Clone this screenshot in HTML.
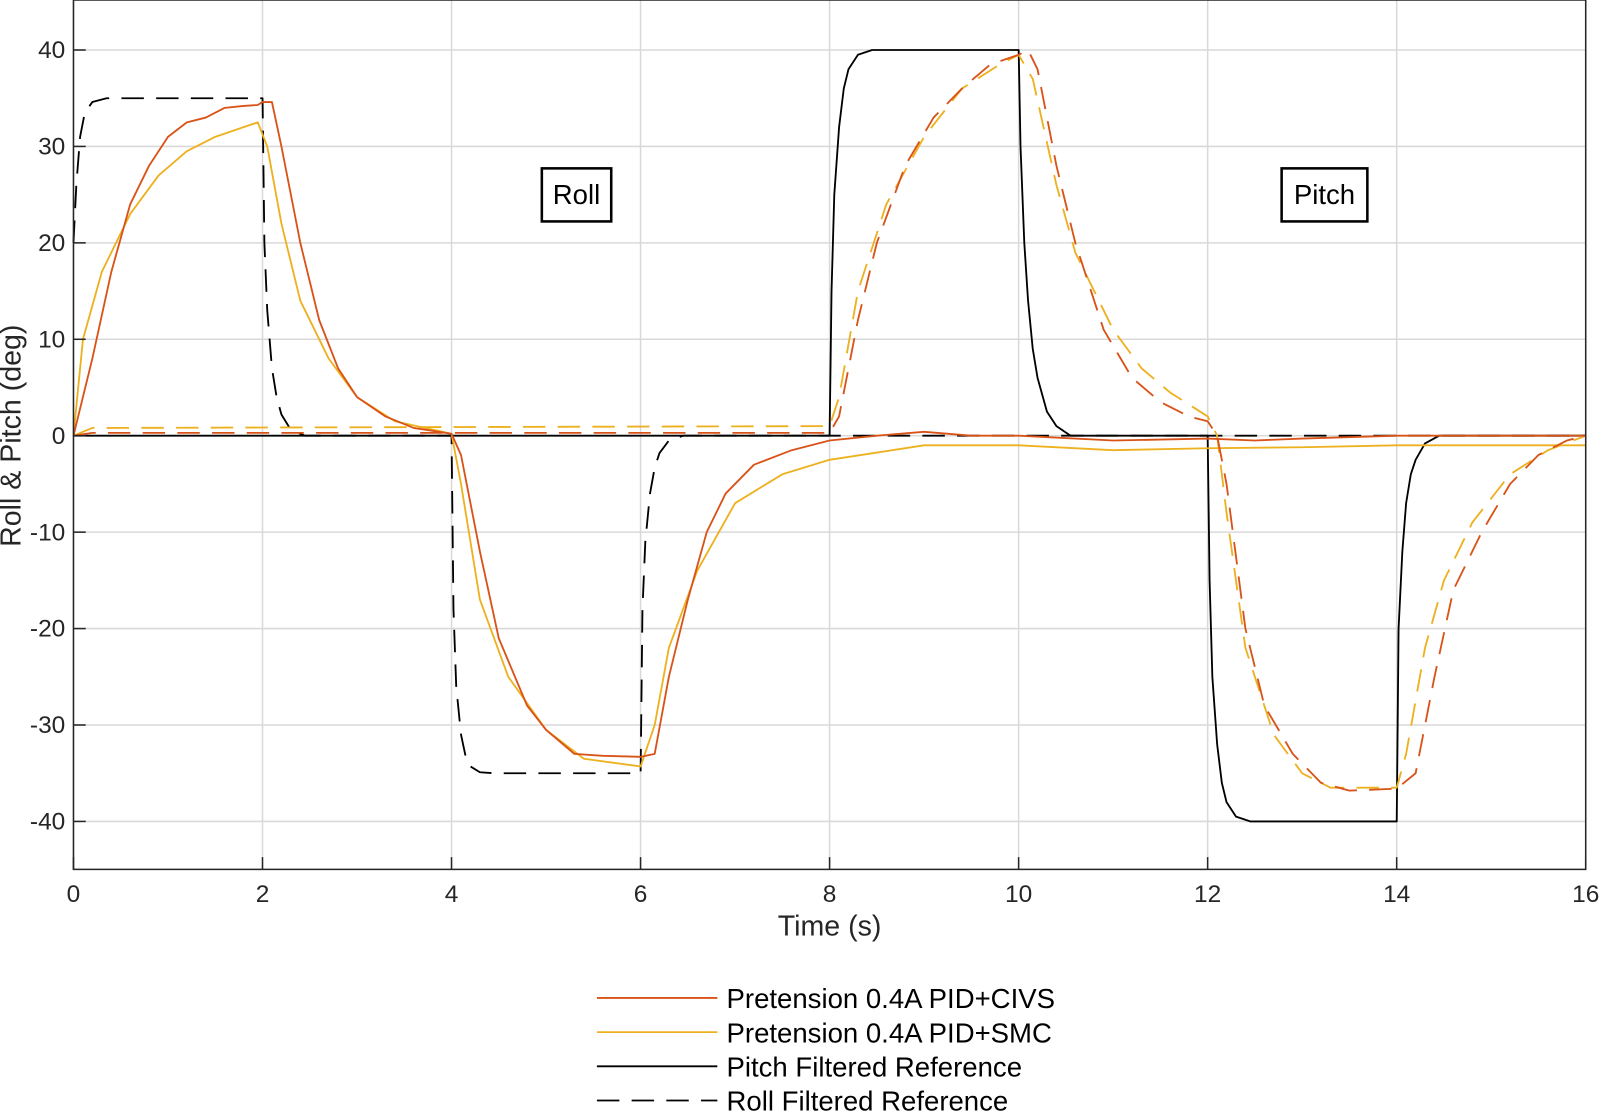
<!DOCTYPE html>
<html><head><meta charset="utf-8"><style>
body{margin:0;background:#fff}
svg{display:block;font-family:"Liberation Sans",Arial,sans-serif}
</style></head><body>
<svg id="chart" width="1600" height="1111" viewBox="0 0 1600 1111"><g id="root" transform="scale(1.020408)"></g></svg>
<script>
const xTicks=[0,2,4,6,8,10,12,14,16];
const yTicks=[40,30,20,10,0,-10,-20,-30,-40];
const civsRoll=[[0,0],[0.2,8],[0.4,17],[0.6,24],[0.8,28],[1.0,31],[1.2,32.5],[1.4,33],[1.6,34],[1.8,34.2],[1.95,34.3],[2.0,34.6],[2.1,34.6],[2.2,30],[2.4,20],[2.6,12],[2.8,7],[3.0,4],[3.3,2],[3.6,0.8],[4.0,0.2],[4.1,-2],[4.3,-12],[4.5,-21],[4.8,-28],[5.0,-30.5],[5.3,-33],[5.6,-33.2],[6.0,-33.3],[6.15,-33],[6.3,-25],[6.5,-17],[6.7,-10],[6.9,-6],[7.2,-3],[7.6,-1.5],[8,-0.5],[8.5,0],[9,0.4],[9.5,0],[10,0],[11,-0.5],[12,-0.3],[12.5,-0.5],[13,-0.3],[14,0],[16,0]];
const civsPitch=[[0,0],[0.2,0.3],[4,0.3],[8,0.3],[8.1,2],[8.3,12],[8.5,20],[8.8,28],[9.1,33],[9.4,36],[9.7,38.5],[10,39.5],[10.1,40],[10.2,38],[10.4,28],[10.6,20],[10.9,11],[11.2,6],[11.5,3.5],[11.8,2],[12,1.5],[12.1,0],[12.2,-5],[12.4,-20],[12.6,-28],[12.9,-33],[13.2,-36],[13.5,-36.8],[14,-36.6],[14.2,-35],[14.4,-25],[14.6,-16],[14.9,-10],[15.2,-5],[15.5,-2],[15.8,-0.5],[16,0]];
const smcRoll=[[0,0],[0.1,10],[0.3,17],[0.6,23],[0.9,27],[1.2,29.5],[1.5,31],[1.8,32],[1.95,32.5],[2.05,30],[2.2,22],[2.4,14],[2.7,8],[3.0,4],[3.4,1.5],[4,0.2],[4.1,-5],[4.3,-17],[4.6,-25],[5.0,-30.5],[5.4,-33.5],[6,-34.3],[6.15,-30],[6.3,-22],[6.6,-14],[7,-7],[7.5,-4],[8,-2.5],[9,-1],[10,-1],[11,-1.5],[12,-1.3],[13,-1.2],[14,-1],[16,-1]];
const smcPitch=[[0,0],[0.2,0.8],[4,0.9],[8,1],[8.1,4],[8.3,15],[8.6,24],[9,31],[9.4,36],[9.8,38.5],[10,39.5],[10.15,37],[10.4,26],[10.6,19],[11,11],[11.3,7],[11.6,4.5],[12,2],[12.1,0],[12.2,-8],[12.4,-22],[12.7,-31],[13,-35],[13.3,-36.5],[14,-36.5],[14.1,-33],[14.3,-22],[14.5,-15],[14.8,-9],[15.2,-4],[15.6,-1.5],[16,0]];
const pitchRef=[[0,0],[8,0],[8.02,15],[8.05,25],[8.1,32],[8.15,36],[8.2,38],[8.3,39.5],[8.45,40],[10,40],[10.02,30],[10.06,20],[10.1,14],[10.15,9],[10.2,6],[10.3,2.5],[10.4,1],[10.55,0],[12,0],[12.02,-15],[12.05,-25],[12.1,-32],[12.15,-36],[12.2,-38],[12.3,-39.5],[12.45,-40],[14,-40],[14.02,-20],[14.06,-12],[14.1,-7],[14.15,-4],[14.2,-2.5],[14.3,-0.8],[14.45,0],[16,0]];
const rollRef=[[0,20],[0.03,26],[0.07,31],[0.12,33.5],[0.2,34.6],[0.35,35],[2,35],[2.02,20],[2.05,13],[2.1,7],[2.15,4],[2.2,2.2],[2.3,0.6],[2.45,0],[4,0],[4.02,-18],[4.05,-26],[4.1,-31],[4.15,-33.3],[4.2,-34.3],[4.3,-34.9],[4.45,-35],[6,-35],[6.02,-18],[6.05,-11],[6.1,-6],[6.15,-3.3],[6.2,-1.8],[6.3,-0.5],[6.45,0],[16,0]];
const legendLabels=["Pretension 0.4A PID+CIVS","Pretension 0.4A PID+SMC","Pitch Filtered Reference","Roll Filtered Reference"];

const L=72,R=1554,T=0,B=852;
const X=t=>L+(t-0)/16*(R-L);
const Y=v=>427-v*9.45;
const svg=document.getElementById('root');
const NS='http://www.w3.org/2000/svg';
function mk(tag,attrs,parent){const e=document.createElementNS(NS,tag);for(const k in attrs)e.setAttribute(k,attrs[k]);(parent||svg).appendChild(e);return e;}

const grid=mk('g',{});


xTicks.forEach(t=>{mk('line',{x1:X(t),x2:X(t),y1:T,y2:B,stroke:'#d9d9d9','stroke-width':1.5},grid);});
yTicks.forEach(v=>{mk('line',{x1:L,x2:R,y1:Y(v),y2:Y(v),stroke:'#d9d9d9','stroke-width':1.5},grid);});

function series(data,color,dash,name){
  const p=mk('path',{d:data.map((d,i)=>(i?'L':'M')+X(d[0]).toFixed(1)+','+Y(d[1]).toFixed(1)).join(''),fill:'none',stroke:color,'stroke-width':1.8,'stroke-dasharray':dash||'none','stroke-linejoin':'round'});
  
  
}
series(pitchRef,'#000','', 'pitch-reference-line');
series(rollRef,'#000','22,12','roll-reference-line');
series(smcRoll,'#edb120','','smc-roll-line');
series(smcPitch,'#edb120','22,12','smc-pitch-line');
series(civsRoll,'#d95319','','civs-roll-line');
series(civsPitch,'#d95319','22,12','civs-pitch-line');

const ax=mk('rect',{x:L,y:T,width:R-L,height:B-T,fill:'none',stroke:'#262626','stroke-width':1.5});



xTicks.forEach(t=>{
  mk('line',{x1:X(t),x2:X(t),y1:B,y2:B-12,stroke:'#262626','stroke-width':1.5});
  const tx=mk('text',{x:X(t),y:B+32,'font-size':24,'text-anchor':'middle',fill:'#262626'});
  tx.textContent=t;
  
  
});
yTicks.forEach(v=>{
  mk('line',{x1:L,x2:L+12,y1:Y(v),y2:Y(v),stroke:'#262626','stroke-width':1.5});
  const tx=mk('text',{x:L-8,y:Y(v)+8,'font-size':24,'text-anchor':'end',fill:'#262626'});
  tx.textContent=v;
  
  
});
const xt=mk('text',{x:813,y:917,'font-size':28,'text-anchor':'middle',fill:'#262626'});
xt.textContent='Time (s)';


const yt=mk('text',{x:0,y:0,'font-size':28,'text-anchor':'middle',fill:'#262626',transform:'translate(20,427) rotate(-90)'});
yt.textContent='Roll & Pitch (deg)';



function box(x,w,label,name){
  const g=mk('g',{});
  
  
  mk('rect',{x:x,y:165,width:w,height:52,fill:'#fff',stroke:'#000','stroke-width':2.5},g);
  const t=mk('text',{x:x+w/2,y:200,'font-size':27,'text-anchor':'middle',fill:'#000'},g);
  t.textContent=label;
}
box(531,68,'Roll','roll-annotation');
box(1256,84,'Pitch','pitch-annotation');

const lg=mk('g',{});


const lc=['#d95319','#edb120','#000','#000'],ld=['','','','22,12'];
legendLabels.forEach((s,i)=>{
  const y=979+i*33.5;
  mk('line',{x1:585,x2:703,y1:y-1,y2:y-1,stroke:lc[i],'stroke-width':1.8,'stroke-dasharray':ld[i]||'none'},lg);
  const t=mk('text',{x:712,y:y+9,'font-size':27,fill:'#000'},lg);
  t.textContent=s;
  
  
});
</script>
</body></html>
